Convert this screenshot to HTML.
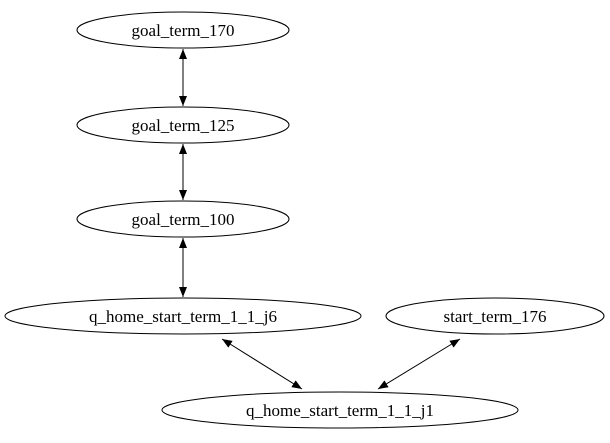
<!DOCTYPE html>
<html><head><style>html,body{margin:0;padding:0;background:#fff;}svg{display:block;} text{font-family:"Liberation Serif","DejaVu Serif",serif;}</style></head>
<body>
<svg width="610" height="443" viewBox="0 0 610 443" xmlns="http://www.w3.org/2000/svg" font-family="'Liberation Serif', serif" font-size="17">
<defs>
<marker id="a" markerWidth="10" markerHeight="8" refX="10" refY="4" orient="auto" markerUnits="userSpaceOnUse">
<path d="M0,0 L10,4 L0,8 Z" fill="#000"/>
</marker>
<marker id="b" markerWidth="10" markerHeight="8" refX="0" refY="4" orient="auto" markerUnits="userSpaceOnUse">
<path d="M10,0 L0,4 L10,8 Z" fill="#000"/>
</marker>
</defs>
<g fill="none" stroke="#000" stroke-width="1">
<ellipse cx="183" cy="30" rx="106" ry="18"/>
<ellipse cx="183" cy="125" rx="106" ry="18"/>
<ellipse cx="183" cy="219" rx="106" ry="18"/>
<ellipse cx="183" cy="316" rx="178" ry="18"/>
<ellipse cx="495" cy="316" rx="109" ry="18"/>
<ellipse cx="340" cy="410" rx="178" ry="18"/>
<line x1="183" y1="49" x2="183" y2="106" marker-start="url(#b)" marker-end="url(#a)"/>
<line x1="183" y1="144" x2="183" y2="200" marker-start="url(#b)" marker-end="url(#a)"/>
<line x1="183" y1="238" x2="183" y2="297" marker-start="url(#b)" marker-end="url(#a)"/>
<line x1="222" y1="339" x2="302" y2="389" marker-start="url(#b)" marker-end="url(#a)"/>
<line x1="460" y1="339" x2="378" y2="389" marker-start="url(#b)" marker-end="url(#a)"/>
</g>
<g text-anchor="middle" fill="#000">
<text x="183" y="36">goal_term_170</text>
<text x="183" y="131">goal_term_125</text>
<text x="183" y="225">goal_term_100</text>
<text x="183" y="322">q_home_start_term_1_1_j6</text>
<text x="495" y="322">start_term_176</text>
<text x="340" y="416">q_home_start_term_1_1_j1</text>
</g>
</svg>
</body></html>
